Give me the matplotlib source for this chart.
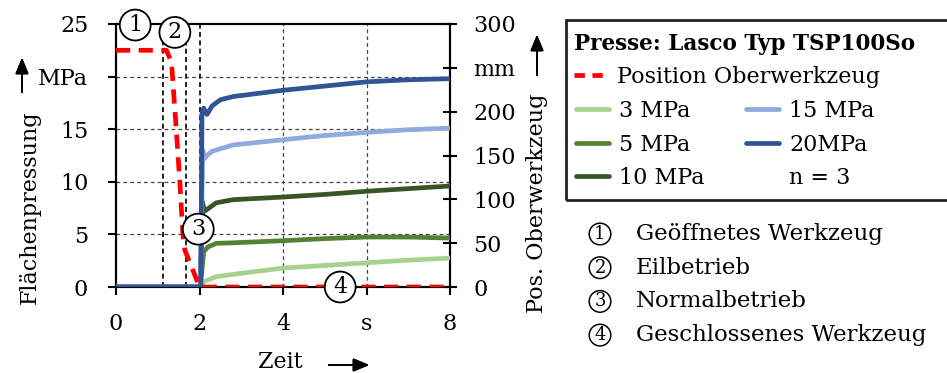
import numpy as np
import matplotlib
matplotlib.use('Agg')
import matplotlib.pyplot as plt
from matplotlib.lines import Line2D
from matplotlib.patches import Rectangle

plt.rcParams['font.family'] = ['DejaVu Serif', 'DejaVu Sans']
plt.rcParams['font.size'] = 16

# Position Oberwerkzeug (mm over s)
t_pos = [0, 1.21, 1.33, 1.45, 1.53, 1.60, 1.65, 1.81, 2.0, 8.0]
pos_mm = [270, 270, 256, 175, 119, 61, 42, 23, 0, 0]

# Flaechenpressung (MPa over s)
t3 = [0, 2.02, 2.1, 2.4, 2.8, 4, 5, 6, 7, 8]
p3 = [0, 0, 0.5, 0.98, 1.2, 1.8, 2.05, 2.3, 2.55, 2.75]
t5 = [0, 2.02, 2.1, 2.2, 2.4, 2.8, 4, 5, 6, 7, 8]
p5 = [0, 0, 3.35, 3.8, 4.15, 4.2, 4.4, 4.6, 4.75, 4.75, 4.65]
t10 = [0, 2.02, 2.07, 2.12, 2.4, 2.8, 4, 5, 6, 7, 8]
p10 = [0, 0, 8.1, 7.2, 8.0, 8.3, 8.55, 8.8, 9.1, 9.35, 9.6]
t15 = [0, 2.02, 2.08, 2.12, 2.18, 2.3, 2.8, 4, 5, 6, 7, 8]
p15 = [0, 0, 13.0, 12.2, 12.5, 12.9, 13.5, 14.0, 14.4, 14.7, 14.95, 15.1]
t20 = [0, 2.03, 2.06, 2.1, 2.18, 2.3, 2.5, 2.8, 4, 5, 6, 7, 8]
p20 = [0, 0, 16.5, 17.0, 16.4, 17.2, 17.8, 18.1, 18.7, 19.1, 19.5, 19.7, 19.8]

phase_x = [1.13, 1.67, 2.0]
marks = [('1', 0.46, 24.9), ('2', 1.41, 24.2), ('3', 1.97, 5.5), ('4', 5.37, 0.0)]
phase_names = ['Geöffnetes Werkzeug', 'Eilbetrieb', 'Normalbetrieb',
               'Geschlossenes Werkzeug']

c3, c5, c10 = '#a9d18e', '#548235', '#375623'
c15, c20 = '#8faadc', '#2f5597'

W, H = 947, 373
fig = plt.figure(figsize=(W / 100, H / 100), dpi=100)
ax = fig.add_axes([116 / W, 1 - 287 / H, 334 / W, 263 / H])
ax2 = ax.twinx()

ax.set_xlim(0, 8)
ax.set_ylim(0, 25)
ax2.set_ylim(0, 300)

# grid
for y in [5, 10, 15, 20]:
    ax.axhline(y, color='#444444', lw=0.9, ls=(0, (3, 2.5)), zorder=1)
for x in [4, 6]:
    ax.axvline(x, color='#444444', lw=0.9, ls=(0, (3, 2.5)), zorder=1)
for x in phase_x:
    ax.axvline(x, color='black', lw=1.2, ls=(0, (3, 2)), zorder=1)

lw = 3.4
ax.plot(t3, p3, color=c3, lw=lw, zorder=3)
ax.plot(t5, p5, color=c5, lw=lw, zorder=3)
ax.plot(t10, p10, color=c10, lw=lw, zorder=3)
ax.plot(t15, p15, color=c15, lw=lw, zorder=3)
ax.plot(t20, p20, color=c20, lw=lw, zorder=4)
# position curve drawn on the MPa axes (300 mm == 25 MPa) so it sits on top
ax.plot(t_pos, np.array(pos_mm) * 25 / 300, color='red', lw=lw,
        ls=(0, (3, 1.8)), zorder=5)

ax.set_zorder(ax2.get_zorder() + 1)
ax.patch.set_visible(False)

for sp in ['top', 'right', 'left', 'bottom']:
    ax.spines[sp].set_linewidth(1.5)
    ax2.spines[sp].set_linewidth(1.5)

ax.set_xticks([0, 2, 4, 6, 8])
ax.set_xticklabels(['0', '2', '4', 's', '8'])
ax.set_yticks([0, 5, 10, 15, 20, 25])
ax.set_yticklabels(['0', '5', '10', '15', 'MPa', '25'])
ax2.set_yticks([0, 50, 100, 150, 200, 250, 300])
ax2.set_yticklabels(['0', '50', '100', '150', '200', 'mm', '300'])
ax.tick_params(axis='x', direction='out', length=6, width=1.5, pad=13)
ax.tick_params(axis='y', direction='out', length=6, width=1.5, pad=14)
ax2.tick_params(axis='y', direction='inout', length=10, width=1.5, pad=12)

for lab, x, y in marks:
    ax.text(x, y, lab, ha='center', va='center', zorder=10, clip_on=False,
            bbox=dict(boxstyle='circle,pad=0.2', fc='white', ec='black', lw=1.3))

# axis labels
fig.text(30 / W, 1 - 207 / H, 'Flächenpressung', rotation=90, ha='center', va='center')
fig.text(537 / W, 1 - 203 / H, 'Pos. Oberwerkzeug', rotation=90, ha='center', va='center')
fig.text(280 / W, 1 - 362 / H, 'Zeit', ha='center', va='center')
arrow = dict(arrowstyle='-|>,head_length=0.6,head_width=0.25', color='black', lw=1.3)
fig.add_artist(plt.annotate('', xy=(22 / W, 1 - 55 / H), xytext=(22 / W, 1 - 95 / H),
                            xycoords='figure fraction', arrowprops=arrow))
fig.add_artist(plt.annotate('', xy=(537 / W, 1 - 32 / H), xytext=(537 / W, 1 - 78 / H),
                            xycoords='figure fraction', arrowprops=arrow))
fig.add_artist(plt.annotate('', xy=(372 / W, 1 - 365 / H), xytext=(326 / W, 1 - 365 / H),
                            xycoords='figure fraction', arrowprops=arrow))

# legend
fig.patches.append(Rectangle((566 / W, 1 - 200 / H), 0.45, 180 / H, transform=fig.transFigure,
                             fill=False, ec='#222222', lw=2, figure=fig))
h_pos = Line2D([], [], color='red', lw=lw, ls=(0, (2.2, 1.6)))
leg1 = fig.legend([h_pos], ['Position Oberwerkzeug'], loc='upper left',
                  bbox_to_anchor=(574 / W, 1 - 33 / H), frameon=False, borderpad=0,
                  borderaxespad=0, handlelength=1.5, handletextpad=0.45,
                  title='Presse: Lasco Typ TSP100So', alignment='left',
                  title_fontproperties={'weight': 'bold', 'size': 15.5})
handles = [Line2D([], [], color=c, lw=lw, solid_capstyle='round') for c in [c3, c5, c10, c15, c20]]
handles.append(Line2D([], [], color='none'))
labels = ['3 MPa', '5 MPa', '10 MPa', '15 MPa', '20MPa', 'n = 3']
leg2 = fig.legend(handles, labels, loc='upper left', ncol=2,
                  bbox_to_anchor=(576 / W, 1 - 100 / H), frameon=False, borderpad=0,
                  borderaxespad=0, handlelength=1.5, handletextpad=0.45,
                  labelspacing=0.52, columnspacing=1.85)

for i, name in enumerate(phase_names):
    y = 1 - (234 + i * 33.7) / H
    fig.text(600 / W, y, str(i + 1), ha='center', va='center', fontsize=13,
             bbox=dict(boxstyle='circle,pad=0.1', fc='white', ec='black', lw=1.1))
    fig.text(636 / W, y, name, ha='left', va='center', fontsize=16.5)

fig.savefig('out.png', dpi=100)
